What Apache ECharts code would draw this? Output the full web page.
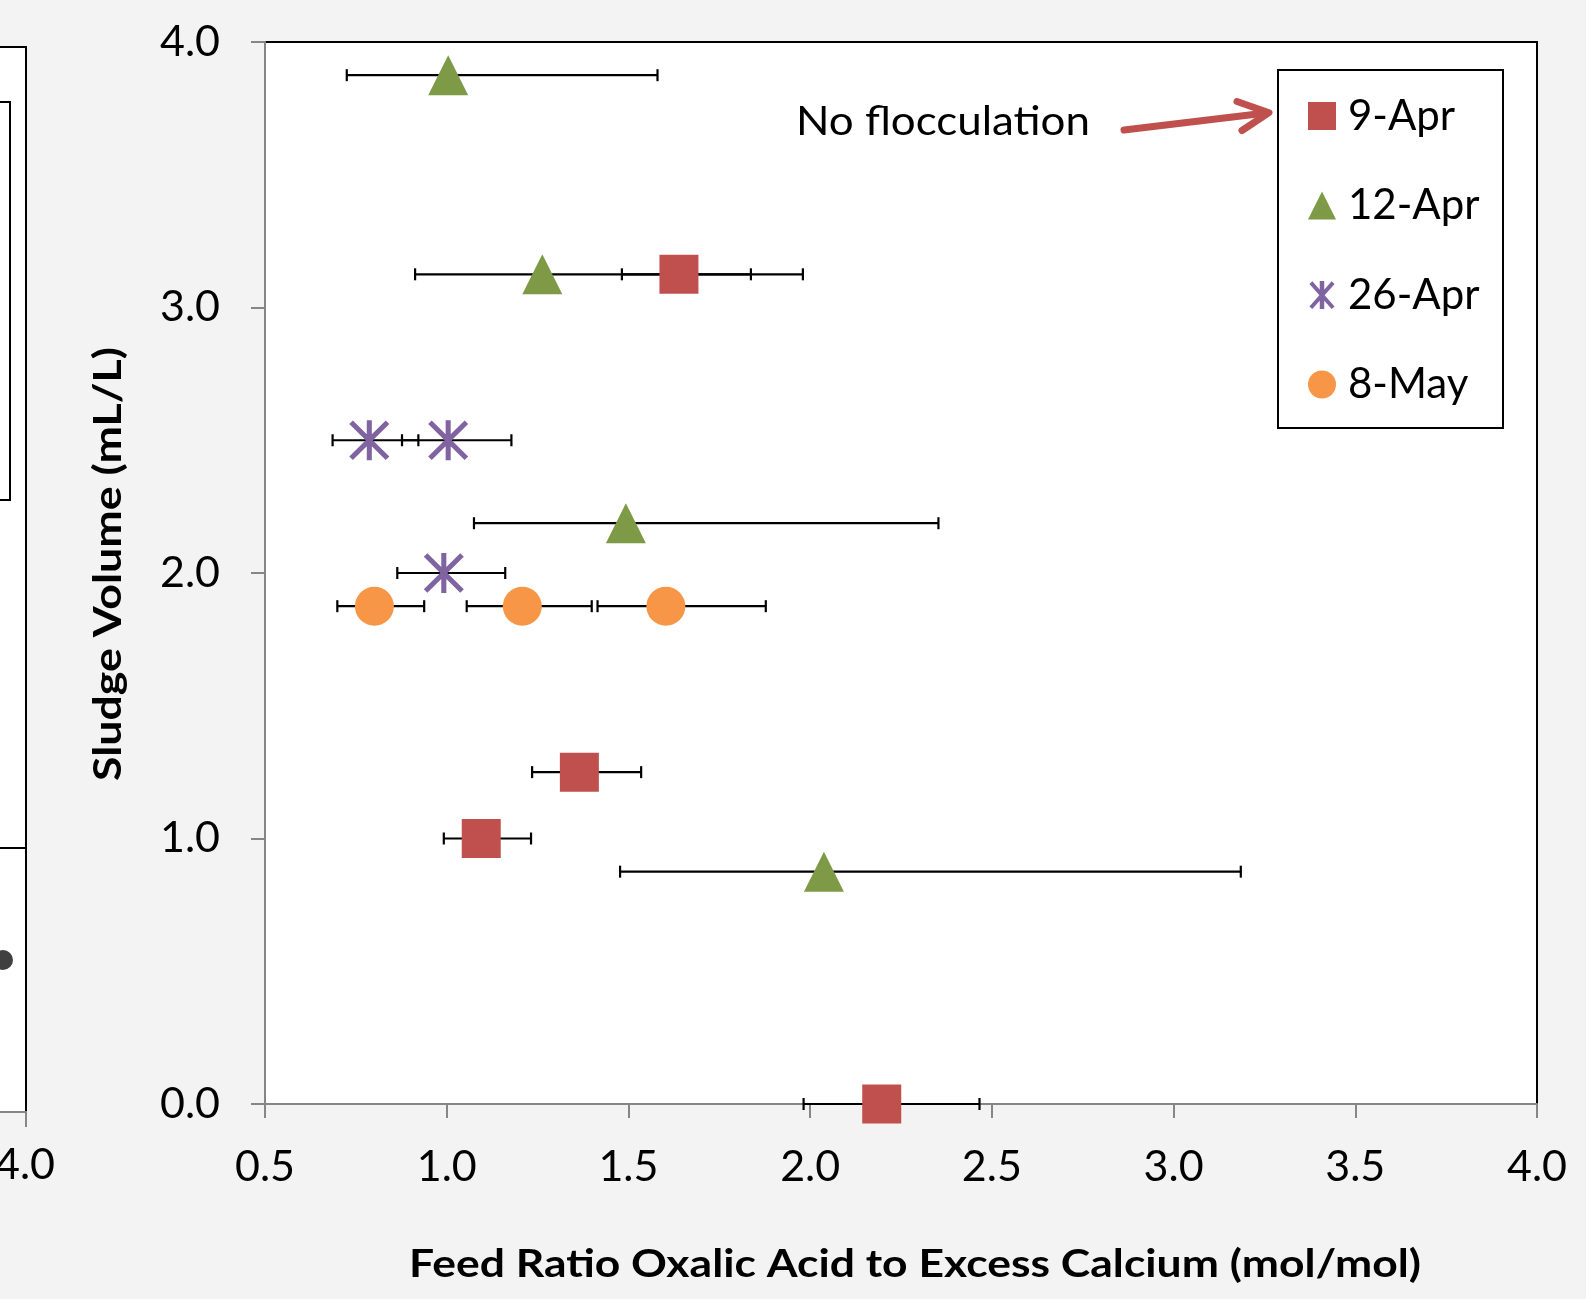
<!DOCTYPE html>
<html>
<head>
<meta charset="utf-8">
<script src="https://cdn.jsdelivr.net/npm/echarts@6/dist/echarts.min.js"></script>
<style>
html,body{margin:0;padding:0;background:#f3f3f3;}
#chart{width:1586px;height:1299px;}
</style>
</head>
<body>
<div id="chart"></div>
<script>
// ---- data ----
const seriesNames = ['9-Apr', '12-Apr', '26-Apr', '8-May'];

const apr9X  = [1.639, 1.365, 1.095, 2.197];
const apr9Y  = [3.125, 1.25, 1.0, 0.0];
const apr9Lo = [1.482, 1.235, 0.992, 1.982];
const apr9Hi = [1.837, 1.535, 1.232, 2.466];

const apr12X  = [1.004, 1.263, 1.493, 2.038];
const apr12Y  = [3.875, 3.125, 2.1875, 0.875];
const apr12Lo = [0.725, 0.913, 1.075, 1.477];
const apr12Hi = [1.580, 1.980, 2.353, 3.185];

const apr26X  = [0.787, 1.004, 0.992];
const apr26Y  = [2.5, 2.5, 2.0];
const apr26Lo = [0.686, 0.877, 0.864];
const apr26Hi = [0.922, 1.178, 1.161];

const may8X  = [0.801, 1.208, 1.603];
const may8Y  = [1.875, 1.875, 1.875];
const may8Lo = [0.699, 1.055, 1.415];
const may8Hi = [0.938, 1.399, 1.878];

const xTicks = [0.5, 1.0, 1.5, 2.0, 2.5, 3.0, 3.5, 4.0];
const yTicks = [0.0, 1.0, 2.0, 3.0, 4.0];

const xTitle = 'Feed Ratio Oxalic Acid to Excess Calcium (mol/mol)';
const yTitle = 'Sludge Volume (mL/L)';
const noteText = 'No flocculation';

// ---- helpers ----
const FONT = 'Lato';
function pts(xs, ys) { return xs.map((x, i) => [x, ys[i]]); }
function bars(lo, hi, ys) { return lo.map((l, i) => [l, hi[i], ys[i]]); }
function fitScale(text, font, target) {
  const c = document.createElement('canvas').getContext('2d');
  c.font = font;
  return target / c.measureText(text).width;
}
const asterisk = 'path://M0.232,3.768L36.232,39.768L39.768,36.232L3.768,0.232Z' +
  'M36.232,0.232L0.232,36.232L3.768,39.768L39.768,3.768Z' +
  'M17.5,0L17.5,40L22.5,40L22.5,0Z';
const asteriskBold = 'path://M0,4.2L31.8,40L36,36.3L4.2,0.5Z' +
  'M31.8,0.5L0,36.3L4.2,40L36,4.2Z' +
  'M14.8,0L14.8,40L21.2,40L21.2,0Z';

const colors = { r: '#C0504D', g: '#7E9A46', p: '#8064A2', o: '#F79646' };

const errData = [].concat(
  bars(apr9Lo, apr9Hi, apr9Y),
  bars(apr12Lo, apr12Hi, apr12Y),
  bars(apr26Lo, apr26Hi, apr26Y),
  bars(may8Lo, may8Hi, may8Y)
);

const chart = echarts.init(document.getElementById('chart'));

const xFont = 'bold 39px ' + FONT;
const yFont = 'bold 39px ' + FONT;
const nFont = '40px ' + FONT;

const option = {
  backgroundColor: '#f3f3f3',
  animation: false,
  textStyle: { fontFamily: FONT },
  grid: {
    left: 265, top: 42, width: 1272, height: 1062,
    show: true, backgroundColor: '#ffffff', borderColor: '#000000', borderWidth: 2
  },
  xAxis: {
    type: 'value', min: 0.5, max: 4.0, interval: 0.5,
    axisLine: { show: true, onZero: false, lineStyle: { color: '#868686', width: 2 } },
    axisTick: { show: true, length: 14, lineStyle: { color: '#868686', width: 2 } },
    splitLine: { show: false },
    axisLabel: { fontSize: 43, color: '#000', margin: 42, fontFamily: FONT,
      formatter: v => v.toFixed(1) }
  },
  yAxis: {
    type: 'value', min: 0, max: 4, interval: 1,
    axisLine: { show: true, onZero: false, lineStyle: { color: '#868686', width: 2 } },
    axisTick: { show: true, length: 14, lineStyle: { color: '#868686', width: 2 } },
    splitLine: { show: false },
    axisLabel: { fontSize: 43, color: '#000', margin: 45, fontFamily: FONT,
      formatter: v => v.toFixed(1) }
  },
  legend: {
    orient: 'vertical', left: 1308, top: 95, padding: 0,
    itemGap: 47.5, itemWidth: 28, itemHeight: 28,
    textStyle: { fontSize: 42, color: '#000', fontFamily: FONT, lineHeight: 40, padding: [0, 0, 0, 7] },
    data: [
      { name: seriesNames[0], icon: 'rect' },
      { name: seriesNames[1], icon: 'triangle' },
      { name: seriesNames[2], icon: asteriskBold },
      { name: seriesNames[3], icon: 'circle' }
    ],
    selectedMode: false
  },
  graphic: [
    // legend frame
    { type: 'rect', z: 1, shape: { x: 1278, y: 70, width: 225, height: 358 },
      style: { fill: '#ffffff', stroke: '#000000', lineWidth: 2 } },
    // annotation
    { type: 'text', x: 943, y: 122, scaleX: fitScale(noteText, nFont, 294),
      style: { text: noteText, font: nFont, fill: '#000', align: 'center', verticalAlign: 'middle' } },
    { type: 'polyline', shape: { points: [[1124, 130], [1266, 113]] },
      style: { stroke: colors.r, lineWidth: 7, lineCap: 'round', lineJoin: 'round', fill: null } },
    { type: 'polyline', shape: { points: [[1237, 101.5], [1269, 112.7], [1242, 130.5]] },
      style: { stroke: colors.r, lineWidth: 7, lineCap: 'round', lineJoin: 'round', fill: null } },
    // axis titles
    { type: 'text', x: 915, y: 1264, scaleX: fitScale(xTitle, xFont, 1012),
      style: { text: xTitle, font: xFont, fill: '#000', align: 'center', verticalAlign: 'middle' } },
    { type: 'text', x: 108, y: 564, rotation: Math.PI / 2, scaleX: fitScale(yTitle, yFont, 434),
      style: { text: yTitle, font: yFont, fill: '#000', align: 'center', verticalAlign: 'middle' } },
    // neighbouring chart fragment on the left edge
    { type: 'rect', shape: { x: -4, y: 47, width: 30, height: 1065 }, style: { fill: '#ffffff' } },
    { type: 'line', shape: { x1: -2, y1: 47, x2: 26, y2: 47 }, style: { stroke: '#000', lineWidth: 2 } },
    { type: 'line', shape: { x1: 26, y1: 46, x2: 26, y2: 1112 }, style: { stroke: '#000', lineWidth: 2 } },
    { type: 'line', shape: { x1: -2, y1: 1112, x2: 27, y2: 1112 }, style: { stroke: '#868686', lineWidth: 2 } },
    { type: 'line', shape: { x1: 26, y1: 1112, x2: 26, y2: 1127 }, style: { stroke: '#868686', lineWidth: 2 } },
    { type: 'rect', shape: { x: -4, y: 102, width: 14, height: 398 },
      style: { fill: '#ffffff', stroke: '#000', lineWidth: 2 } },
    { type: 'line', shape: { x1: -2, y1: 848, x2: 26, y2: 848 }, style: { stroke: '#000', lineWidth: 2 } },
    { type: 'circle', shape: { cx: 3, cy: 960, r: 10 }, style: { fill: '#404040' } },
    { type: 'text', x: 25, y: 1165,
      style: { text: '4.0', font: '43px ' + FONT, fill: '#000', align: 'center', verticalAlign: 'middle' } }
  ],
  series: [
    {
      type: 'custom', name: 'err', z: 2, clip: false, silent: true,
      data: errData,
      encode: { x: [0, 1], y: 2 },
      renderItem: function (params, api) {
        const y = api.value(2);
        const a = api.coord([api.value(0), y]);
        const b = api.coord([api.value(1), y]);
        const h = 6;
        const st = { stroke: '#000', lineWidth: 2.2 };
        return {
          type: 'group', children: [
            { type: 'line', shape: { x1: a[0], y1: a[1], x2: b[0], y2: b[1] }, style: st },
            { type: 'line', shape: { x1: a[0], y1: a[1] - h, x2: a[0], y2: a[1] + h }, style: st },
            { type: 'line', shape: { x1: b[0], y1: b[1] - h, x2: b[0], y2: b[1] + h }, style: st }
          ]
        };
      }
    },
    { type: 'scatter', name: seriesNames[0], z: 3, clip: false, symbol: 'rect', symbolSize: 39,
      itemStyle: { color: colors.r, opacity: 1 }, data: pts(apr9X, apr9Y) },
    { type: 'scatter', name: seriesNames[1], z: 3, clip: false, symbol: 'triangle', symbolSize: 40,
      itemStyle: { color: colors.g, opacity: 1 }, data: pts(apr12X, apr12Y) },
    { type: 'scatter', name: seriesNames[2], z: 3, clip: false, symbol: asterisk, symbolSize: 40,
      itemStyle: { color: colors.p, opacity: 1 }, data: pts(apr26X, apr26Y) },
    { type: 'scatter', name: seriesNames[3], z: 3, clip: false, symbol: 'circle', symbolSize: 39,
      itemStyle: { color: colors.o, opacity: 1 }, data: pts(may8X, may8Y) }
  ]
};
chart.setOption(option);
</script>
</body>
</html>
